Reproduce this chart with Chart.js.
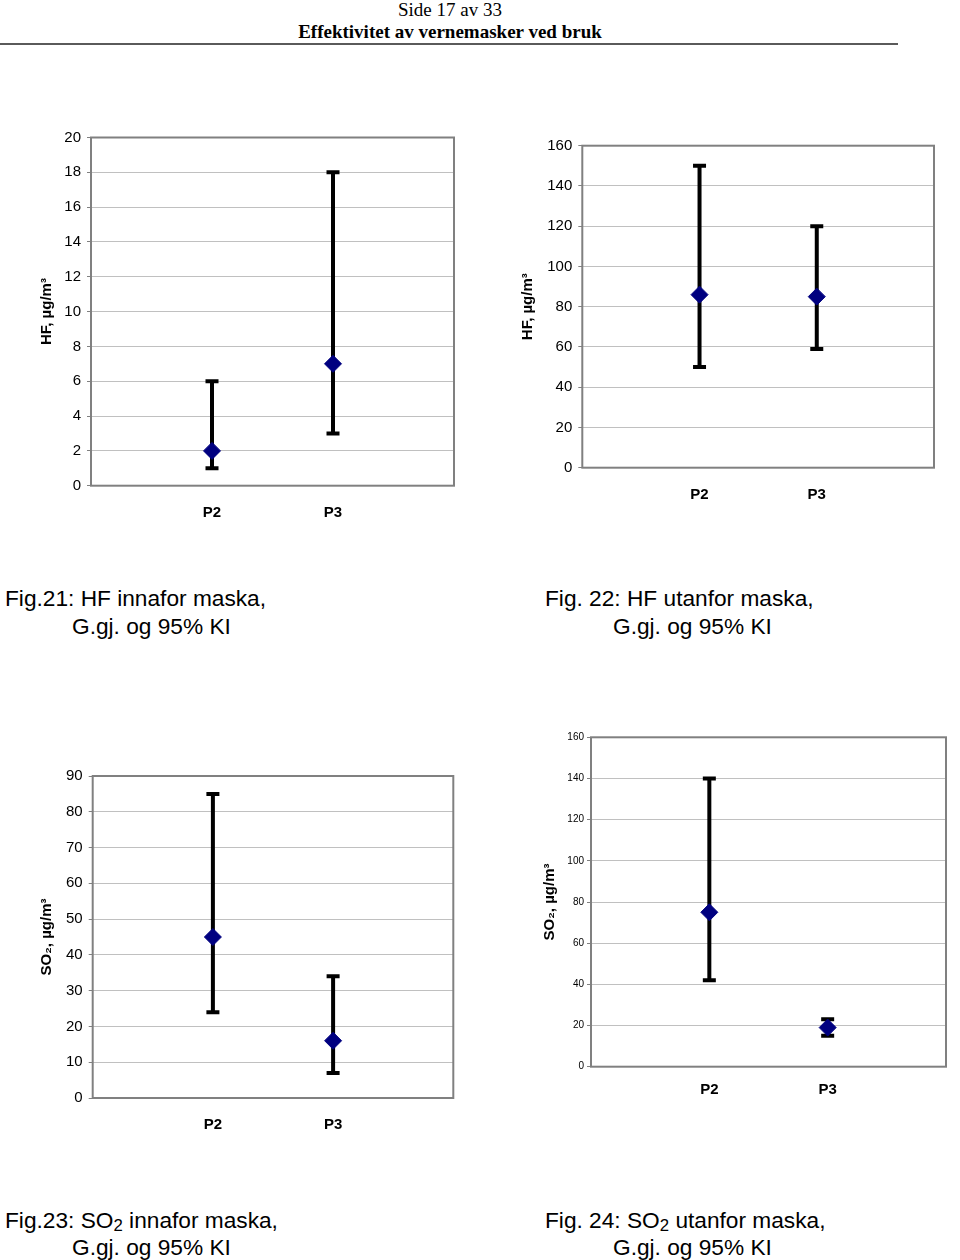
<!DOCTYPE html>
<html>
<head>
<meta charset="utf-8">
<script src="https://cdn.jsdelivr.net/npm/chart.js@4"></script>
<style>
  body { margin:0; background:#fff; width:960px; height:1260px; position:relative; overflow:hidden; font-family:'Liberation Sans', Arial, sans-serif; }
  .hdr { position:absolute; left:0; width:900px; text-align:center; font-family:'Liberation Serif','Times New Roman',serif; font-size:19px; line-height:22px; color:#000; white-space:nowrap; }
  .rule { position:absolute; left:0; top:43px; width:898px; height:2px; background:#5a5a5a; }
  .cap { position:absolute; font-size:22.7px; line-height:28px; white-space:nowrap; color:#000; }
  .cap sub { font-size:0.74em; vertical-align:-0.15em; line-height:0; }
  canvas { position:absolute; }
</style>
</head>
<body>
<div class="hdr" style="top:-1px;">Side 17 av 33</div>
<div class="hdr" style="top:21px;font-weight:bold;">Effektivitet av vernemasker ved bruk</div>
<div class="rule"></div>

<canvas id="c21" width="475" height="430" style="left:0px;top:110px;width:475px;height:430px;"></canvas>
<canvas id="c22" width="480" height="410" style="left:480px;top:120px;width:480px;height:410px;"></canvas>
<canvas id="c23" width="475" height="420" style="left:0px;top:730px;width:475px;height:420px;"></canvas>
<canvas id="c24" width="480" height="410" style="left:480px;top:710px;width:480px;height:410px;"></canvas>

<div class="cap" style="left:5px;top:584px;">Fig.21: HF innafor maska,</div>
<div class="cap" style="left:72px;top:612px;">G.gj. og 95% KI</div>
<div class="cap" style="left:545px;top:584px;">Fig. 22: HF utanfor maska,</div>
<div class="cap" style="left:613px;top:612px;">G.gj. og 95% KI</div>
<div class="cap" style="left:5px;top:1206px;">Fig.23: SO<sub>2</sub> innafor maska,</div>
<div class="cap" style="left:72px;top:1233px;">G.gj. og 95% KI</div>
<div class="cap" style="left:545px;top:1206px;">Fig. 24: SO<sub>2</sub> utanfor maska,</div>
<div class="cap" style="left:613px;top:1233px;">G.gj. og 95% KI</div>

<script>
// ---- data ----
const categories = ['P2', 'P3'];

const fig21Mean = [2, 7];
const fig21Low  = [1, 3];
const fig21High = [6, 18];

const fig22Mean = [86, 85];
const fig22Low  = [50, 59];
const fig22High = [150, 120];

const fig23Mean = [45, 16];
const fig23Low  = [24, 7];
const fig23High = [85, 34];

const fig24Mean = [75, 19];
const fig24Low  = [42, 15];
const fig24High = [140, 23];

const yMaxes  = [20, 160, 90, 160];
const ySteps  = [2, 20, 10, 20];
const yTitles = ['HF, µg/m³', 'HF, µg/m³', 'SO₂, µg/m³', 'SO₂, µg/m³'];

// ---- drawing ----
const FONT = "'Liberation Sans', Arial, sans-serif";

function errorBarPlugin(low, high) {
  return {
    id: 'errbars',
    beforeDatasetsDraw(chart) {
      const ctx = chart.ctx, a = chart.chartArea;
      const xs = chart.scales.x, ys = chart.scales.y;
      ctx.save();
      // plot-area frame
      ctx.strokeStyle = '#808080';
      ctx.lineWidth = 2;
      ctx.strokeRect(a.left, a.top, a.right - a.left, a.bottom - a.top);
      // error bars
      ctx.strokeStyle = '#000';
      ctx.lineCap = 'butt';
      for (let i = 0; i < low.length; i++) {
        const x = xs.getPixelForValue(i + 1);
        const yl = ys.getPixelForValue(low[i]);
        const yh = ys.getPixelForValue(high[i]);
        ctx.lineWidth = 4;
        ctx.beginPath();
        ctx.moveTo(x, yh); ctx.lineTo(x, yl);
        ctx.stroke();
        ctx.lineWidth = 4;
        ctx.beginPath();
        ctx.moveTo(x - 6.5, yh); ctx.lineTo(x + 6.5, yh);
        ctx.moveTo(x - 6.5, yl); ctx.lineTo(x + 6.5, yl);
        ctx.stroke();
      }
      ctx.restore();
    }
  };
}

function makeChart(id, idx, mean, low, high, L) {
  new Chart(document.getElementById(id), {
    type: 'scatter',
    data: {
      datasets: [{
        data: mean.map((v, i) => ({ x: i + 1, y: v })),
        pointStyle: 'rectRot',
        radius: 8.5,
        backgroundColor: '#000080',
        borderColor: '#000080',
        borderWidth: 1,
        showLine: false
      }]
    },
    options: {
      responsive: false,
      animation: false,
      events: [],
      layout: { padding: { top: L.padTop, right: L.padRight, left: 0, bottom: 0 } },
      plugins: { legend: { display: false }, tooltip: { enabled: false } },
      scales: {
        x: {
          type: 'linear',
          min: 0,
          max: categories.length + 1,
          grid: { display: false, drawTicks: false },
          border: { display: false },
          ticks: {
            stepSize: 1,
            autoSkip: false,
            maxRotation: 0,
            padding: L.xPad,
            color: '#000',
            font: { family: FONT, size: 15, weight: 'bold' },
            callback: v => categories[v - 1] || ''
          },
          afterFit: s => { s.height = L.xH; }
        },
        y: {
          min: 0,
          max: yMaxes[idx],
          grid: { color: '#c0c0c0', lineWidth: 1, drawTicks: true, tickLength: 4, tickColor: '#808080' },
          border: { display: false },
          ticks: {
            stepSize: ySteps[idx],
            padding: L.yPad,
            color: '#000',
            font: { family: FONT, size: L.tickSize }
          },
          title: {
            display: true,
            text: yTitles[idx],
            color: '#000',
            font: { family: FONT, size: 15, weight: 'bold' },
            padding: { top: L.titlePad, bottom: 0 }
          },
          afterFit: s => { s.width = L.yW; }
        }
      }
    },
    plugins: [errorBarPlugin(low, high)]
  });
}

makeChart('c21', 0, fig21Mean, fig21Low, fig21High,
  { padTop: 27.5, padRight: 21, xH: 54.3, yW: 91, xPad: 18, yPad: 6, tickSize: 15, titlePad: 38 });
makeChart('c22', 1, fig22Mean, fig22Low, fig22High,
  { padTop: 25.7, padRight: 26, xH: 62.3, yW: 102.3, xPad: 18, yPad: 6, tickSize: 15, titlePad: 39 });
makeChart('c23', 2, fig23Mean, fig23Low, fig23High,
  { padTop: 46, padRight: 21.7, xH: 52, yW: 92.7, xPad: 18, yPad: 6, tickSize: 15, titlePad: 38 });
makeChart('c24', 3, fig24Mean, fig24Low, fig24High,
  { padTop: 27.3, padRight: 3.3, xH: 53.3, yW: 111, xPad: 14, yPad: 3, tickSize: 10, titlePad: 61 });
</script>
</body>
</html>
